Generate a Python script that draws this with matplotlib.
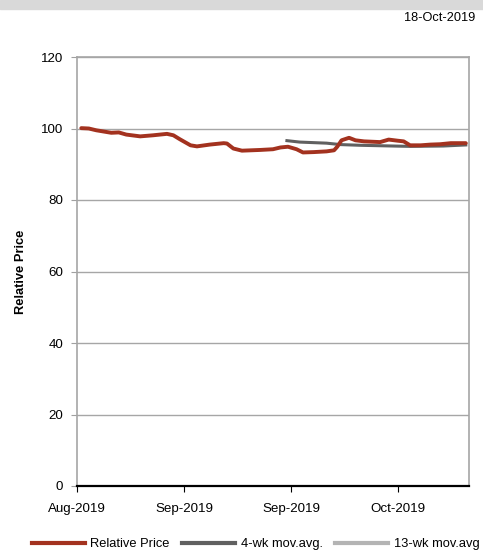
import matplotlib.pyplot as plt
from matplotlib.lines import Line2D
from matplotlib.patches import Rectangle

plt.rcParams['font.family'] = ['Liberation Sans', 'DejaVu Sans']

# Datos (x en dias de negociacion desde el inicio)
dias_precio = [0.4, 1.1, 1.8, 3.2, 3.9, 4.6, 5.9, 7.1, 8.4, 9.0, 9.6, 10.6, 11.2,
               12.4, 13.7, 14.0, 14.6, 15.4, 17.1, 18.3, 19.0, 19.7, 20.5, 21.1,
               22.1, 23.3, 24.0, 24.3, 24.7, 25.4, 26.0, 26.8, 28.3, 29.1, 29.9,
               30.5, 31.1, 32.1, 33.0, 33.9, 34.9, 36.3]
precio_relativo = [100.1, 100.0, 99.5, 98.8, 98.9, 98.3, 97.8, 98.1, 98.5, 98.1,
                   97.0, 95.3, 95.0, 95.5, 95.9, 95.8, 94.4, 93.8, 94.0, 94.2,
                   94.7, 94.9, 94.2, 93.3, 93.4, 93.6, 93.9, 94.9, 96.7, 97.4,
                   96.7, 96.4, 96.2, 96.9, 96.6, 96.4, 95.3, 95.3, 95.5, 95.6,
                   95.9, 95.9]

dias_4wk = [19.6, 20.8, 23.3, 24.6, 26.5, 29.5, 31.1, 34.2, 36.3]
media_4wk = [96.6, 96.2, 95.9, 95.5, 95.3, 95.1, 95.0, 95.1, 95.4]

dias_13wk = []
media_13wk = []

ticks_x = [0, 10, 20, 30]
etiquetas_x = ['Aug-2019', 'Sep-2019', 'Sep-2019', 'Oct-2019']
ticks_y = [0, 20, 40, 60, 80, 100, 120]

ROJO = '#a3321f'
GRIS_OSCURO = '#606060'
GRIS_CLARO = '#b4b4b4'

fig = plt.figure(figsize=(4.83, 5.5), dpi=100)

# banda gris superior
fig.patches.append(Rectangle((0, 1 - 9 / 550), 1, 9 / 550, transform=fig.transFigure,
                             color='#d9d9d9', zorder=0))
fig.text(475 / 483, 1 - 18 / 550, '18-Oct-2019', ha='right', va='center', fontsize=9.2)

ax = fig.add_axes([77 / 483, 1 - 486 / 550, 392 / 483, 429 / 550])
ax.plot(dias_precio, precio_relativo, color=ROJO, lw=2.8, solid_capstyle='round', zorder=3)
ax.plot(dias_4wk, media_4wk, color=GRIS_OSCURO, lw=2.2, zorder=2)
ax.plot(dias_13wk, media_13wk, color=GRIS_CLARO, lw=2.2, zorder=2)

ax.set_xlim(0, 36.6)
ax.set_ylim(0, 120)
ax.set_yticks(ticks_y)
ax.set_xticks(ticks_x)
ax.set_xticklabels(etiquetas_x)
ax.tick_params(axis='both', labelsize=9.6, direction='out', length=4)
ax.tick_params(axis='y', colors='#a0a0a0', labelcolor='black', pad=6)
ax.tick_params(axis='x', colors='black', pad=8)

ax.grid(axis='y', color='#a6a6a6', lw=1)
ax.set_axisbelow(True)
for lado in ['left', 'right', 'top']:
    ax.spines[lado].set_color('#a6a6a6')
    ax.spines[lado].set_linewidth(1.2)
ax.spines['bottom'].set_color('black')
ax.spines['bottom'].set_linewidth(1.6)

ax.set_ylabel('Relative Price', fontsize=9.3, fontweight='bold', labelpad=10)

manejadores = [Line2D([], [], color=ROJO, lw=3.0),
               Line2D([], [], color=GRIS_OSCURO, lw=3.0),
               Line2D([], [], color=GRIS_CLARO, lw=3.0)]
fig.legend(manejadores, ['Relative Price', '4-wk mov.avg.', '13-wk mov.avg'],
           loc='center left', bbox_to_anchor=(32 / 483, 1 - 544 / 550), ncol=3,
           frameon=False, fontsize=9.3, handlelength=4.1, columnspacing=1.0,
           handletextpad=0.4, borderpad=0, borderaxespad=0)

fig.savefig('out.png', dpi=100)
